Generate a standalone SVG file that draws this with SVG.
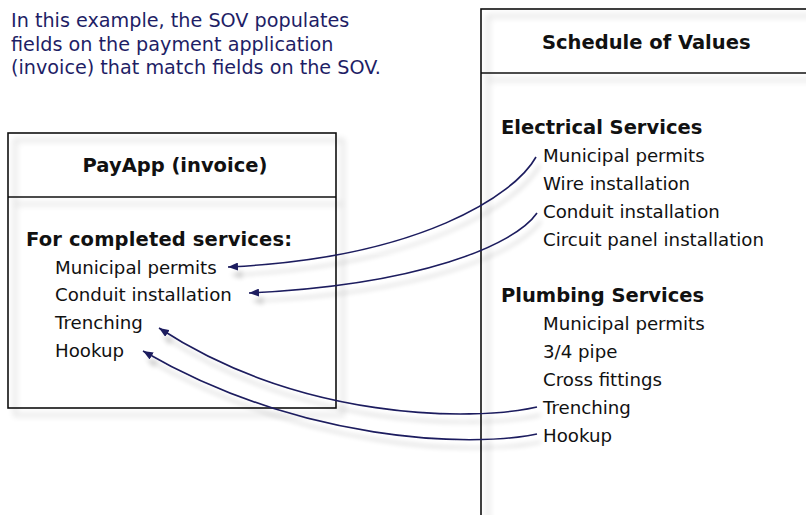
<svg xmlns="http://www.w3.org/2000/svg" width="806" height="515" viewBox="0 0 806 515">
<defs>
<style>
.intro{font-family:"DejaVu Sans",Verdana,sans-serif;font-size:19.2px;fill:#1e1e66}
.hd{font-family:"DejaVu Sans",Verdana,sans-serif;font-size:19.5px;font-weight:bold;fill:#111}
.it{font-family:"DejaVu Sans",Verdana,sans-serif;font-size:18.2px;fill:#111}
.frame{fill:none;stroke:#111;stroke-width:1.6}
.conn{fill:none;stroke:#1c1c5e;stroke-width:1.6}
</style>
<filter id="shadow" x="-10%" y="-10%" width="130%" height="130%">
<feGaussianBlur in="SourceAlpha" stdDeviation="3"/>
<feOffset dx="7" dy="7" result="b"/>
<feComponentTransfer><feFuncA type="linear" slope="0.25"/></feComponentTransfer>
<feMerge><feMergeNode/><feMergeNode in="SourceGraphic"/></feMerge>
</filter>
<filter id="cshadow" x="-10%" y="-20%" width="130%" height="150%">
<feGaussianBlur in="SourceAlpha" stdDeviation="2.5"/>
<feOffset dx="4" dy="8" result="b"/>
<feComponentTransfer><feFuncA type="linear" slope="0.22"/></feComponentTransfer>
<feMerge><feMergeNode/><feMergeNode in="SourceGraphic"/></feMerge>
</filter>
<marker id="arr" viewBox="0 0 10 8" refX="10" refY="4" markerWidth="10" markerHeight="8" markerUnits="userSpaceOnUse" orient="auto">
<path d="M0,0 L10,4 L0,8 Z" fill="#1c1c5e"/>
</marker>
</defs>
<rect width="806" height="515" fill="#fff"/>
<g id="intro">
<text class="intro" x="11" y="27">In this example, the SOV populates</text>
<text class="intro" x="11" y="51">fields on the payment application</text>
<text class="intro" x="11" y="74">(invoice) that match fields on the SOV.</text>
</g>
<g id="payapp">
<g filter="url(#shadow)">
<rect class="frame" x="8" y="133" width="328" height="275"/>
<line class="frame" x1="8" y1="197" x2="336" y2="197"/>
</g>
<text class="hd" x="175" y="172" text-anchor="middle">PayApp (invoice)</text>
<text class="hd" x="26" y="246" textLength="266" lengthAdjust="spacing">For completed services:</text>
<text class="it" x="55" y="274">Municipal permits</text>
<text class="it" x="55" y="301">Conduit installation</text>
<text class="it" x="55" y="329">Trenching</text>
<text class="it" x="55" y="357">Hookup</text>
</g>
<g id="sov">
<g filter="url(#shadow)">
<rect class="frame" x="481" y="9" width="400" height="600"/>
<line class="frame" x1="481" y1="73" x2="881" y2="73"/>
</g>
<text class="hd" x="542" y="49">Schedule of Values</text>
<text class="hd" x="501" y="134">Electrical Services</text>
<text class="it" x="543" y="162">Municipal permits</text>
<text class="it" x="543" y="190">Wire installation</text>
<text class="it" x="543" y="218">Conduit installation</text>
<text class="it" x="543" y="246">Circuit panel installation</text>
<text class="hd" x="501" y="302">Plumbing Services</text>
<text class="it" x="543" y="330">Municipal permits</text>
<text class="it" x="543" y="358">3/4 pipe</text>
<text class="it" x="543" y="386">Cross fittings</text>
<text class="it" x="543" y="414">Trenching</text>
<text class="it" x="543" y="442">Hookup</text>
</g>
<g id="connectors" filter="url(#cshadow)">
<path class="conn" d="M536,157 C515,195 420,258 228,267" marker-end="url(#arr)"/>
<path class="conn" d="M537,213 C515,245 420,285 249,293" marker-end="url(#arr)"/>
<path class="conn" d="M537,407 C470,422 300,420 159,328" marker-end="url(#arr)"/>
<path class="conn" d="M537,434 C470,448 300,442 143,351" marker-end="url(#arr)"/>
</g>
</svg>
